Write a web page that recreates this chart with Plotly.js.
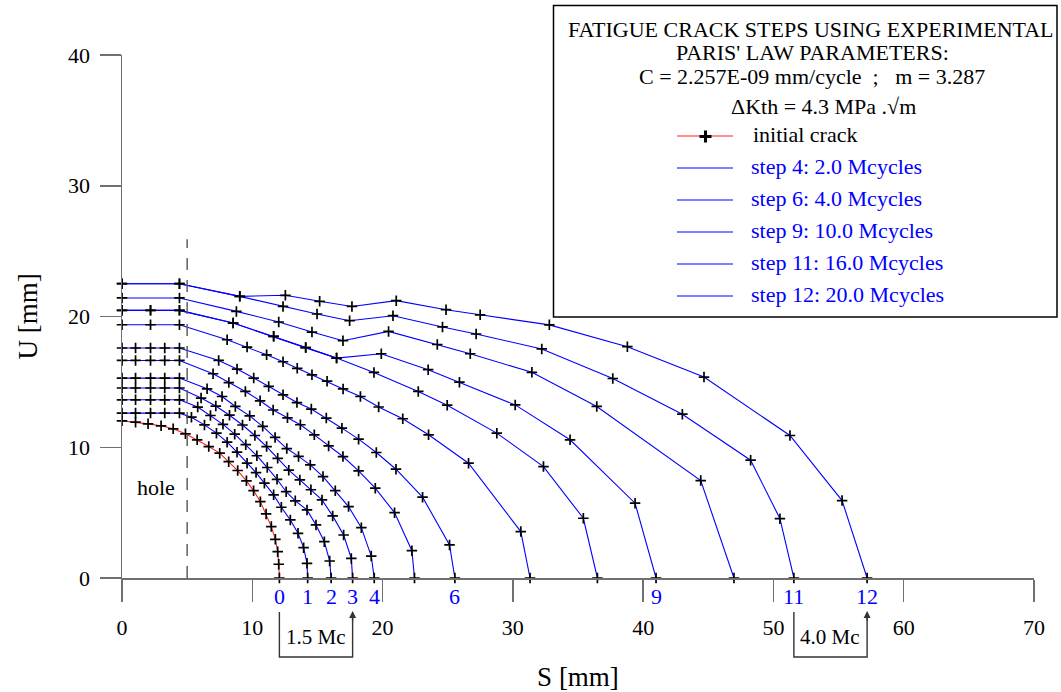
<!DOCTYPE html>
<html><head><meta charset="utf-8">
<script src="https://cdn.plot.ly/plotly-3.0.1.min.js"></script>
<style>html,body{margin:0;padding:0;background:#fff}#chart{width:1061px;height:692px}</style>
</head><body><div id="chart"></div>
<script>
// ---- crack front node positions (S, U in mm) ----
const step0S = [0,1.04,2.0,3.0,3.93,4.87,5.77,6.66,7.5,8.19,8.88,9.55,10.1,10.62,11.06,11.46,11.77,11.95,12.03,12.08];
const step0U = [12.02,11.92,11.79,11.64,11.41,11.03,10.57,10.05,9.55,8.9,8.22,7.43,6.68,5.84,4.9,3.93,2.96,2.01,1.05,0];
const step1S = [0,1.04,2.19,3.28,4.41,5.33,6.33,7.25,8.07,8.83,9.6,10.29,10.93,11.64,12.23,12.92,13.51,13.94,14.2,14.25];
const step1U = [12.61,12.61,12.61,12.61,12.61,12.3,11.71,11.08,10.39,9.62,8.78,8.06,7.25,6.36,5.41,4.44,3.42,2.32,1.12,0];
const step2S = [0,1.04,2.19,3.28,4.41,5.81,6.79,7.75,8.65,9.5,10.35,11.15,11.9,12.6,13.3,14.2,14.89,15.53,15.94,16.05];
const step2U = [13.63,13.63,13.63,13.63,13.63,13.07,12.43,11.75,11.0,10.2,9.35,8.45,7.55,6.6,5.9,5.21,4.06,2.78,1.3,0];
const step3S = [0,1.04,2.19,3.28,4.41,6.07,7.2,8.25,9.25,10.2,11.1,11.95,12.8,13.65,14.5,15.35,16.17,17.01,17.6,17.7];
const step3U = [14.53,14.53,14.53,14.53,14.53,13.76,13.15,12.45,11.7,10.9,10.05,9.15,8.25,7.5,6.75,5.97,4.75,3.29,1.5,0];
const step4S = [0,1.04,2.19,3.28,4.41,6.53,7.68,8.7,9.8,10.8,11.75,12.65,13.55,14.45,15.43,16.37,17.39,18.37,19.13,19.36];
const step4U = [15.29,15.29,15.29,15.29,15.29,14.47,13.88,13.12,12.4,11.6,10.75,9.9,9.3,8.65,7.76,6.68,5.46,3.85,1.68,0];
const step5S = [0,1.04,2.19,3.28,4.41,6.99,8.2,9.47,10.6,11.6,12.7,13.69,14.76,15.86,16.96,18.16,19.44,20.92,22.25,22.45];
const step5U = [16.64,16.64,16.64,16.64,16.64,15.62,14.95,14.27,13.55,12.85,12.25,11.72,10.95,10.1,9.29,8.19,6.87,5.0,2.09,0];
const step6S = [0,1.04,2.19,3.28,4.41,7.42,8.83,10.11,11.26,12.36,13.43,14.53,15.68,16.88,18.16,19.52,21.03,23.07,25.14,25.55];
const step6U = [17.59,17.59,17.59,17.59,17.59,16.64,15.98,15.29,14.65,14.01,13.42,12.92,12.23,11.46,10.62,9.6,8.32,6.18,2.53,0];
const step7S = [0,2.19,4.41,8.07,9.6,11.1,12.36,13.45,14.58,15.74,16.97,18.3,19.7,21.55,23.53,26.6,30.61,31.32];
const step7U = [19.37,19.37,19.37,18.22,17.66,17.07,16.54,16.04,15.54,15.05,14.46,13.88,13.08,12.18,10.95,8.78,3.55,0];
const step8S = [0,2.19,4.41,8.53,11.64,14.1,16.47,19.34,22.74,24.96,28.77,32.35,35.41,36.49];
const step8U = [20.47,20.47,20.47,19.5,18.48,17.62,16.82,15.72,14.27,13.22,11.08,8.52,4.57,0];
const step9S = [0,2.19,4.41,8.53,11.64,14.1,16.47,19.9,23.5,25.9,30.18,34.39,39.38,40.99];
const step9U = [20.47,20.47,20.47,19.5,18.48,17.62,16.82,17.15,15.93,14.98,13.24,10.57,5.72,0];
const step10S = [0,4.41,8.78,12.03,14.58,16.96,20.46,24.2,26.73,31.46,36.44,44.42,46.97];
const step10U = [21.42,21.42,20.39,19.58,18.81,18.15,18.86,17.86,17.15,15.73,13.12,7.45,0];
const step11S = [0,4.41,9.04,12.36,14.97,17.47,20.8,24.6,27.18,32.22,37.67,43.01,48.25,50.5,51.57];
const step11U = [22.51,22.51,21.54,20.77,20.19,19.68,20.06,19.2,18.66,17.52,15.26,12.53,9.01,4.54,0];
const step12S = [0,4.41,9.04,12.54,15.17,17.65,21.05,24.87,27.49,32.8,38.79,44.67,51.27,55.27,57.19];
const step12U = [22.51,22.51,21.54,21.62,21.16,20.77,21.21,20.52,20.13,19.36,17.69,15.37,10.9,5.92,0];

const labeledSteps = [0,1,2,3,4,6,9,11,12];
const stepLabels = ['0','1','2','3','4','6','9','11','12'];
const holeEdgeS = 5;
const holeLineTop = 25.9;
const brackets = [{from:0,to:3,text:'1.5 Mc'},{from:11,to:12,text:'4.0 Mc'}];
const titleLines = ['FATIGUE CRACK STEPS USING EXPERIMENTAL','PARIS\' LAW PARAMETERS:','C = 2.257E-09 mm/cycle  ;   m = 3.287','\u0394Kth = 4.3 MPa .\u221Am'];
const legendLabels = ['initial crack','step 4: 2.0 Mcycles','step 6: 4.0 Mcycles','step 9: 10.0 Mcycles','step 11: 16.0 Mcycles','step 12: 20.0 Mcycles'];

const stepS = [step0S,step1S,step2S,step3S,step4S,step5S,step6S,step7S,step8S,step9S,step10S,step11S,step12S];
const stepU = [step0U,step1U,step2U,step3U,step4U,step5U,step6U,step7U,step8U,step9U,step10U,step11U,step12U];

const FONT = 'Liberation Serif';
const BLUE = '#0000ff', RED = '#ff2020', AX = '#707070';

const traces = stepS.map((s,i)=>({
  x: s, y: stepU[i], type:'scatter', mode:'lines+markers', name: i===0?'initial crack':'step '+i,
  line:{color: i===0?RED:BLUE, width:1.1},
  marker:{symbol:'cross-thin', size:7.5, color:'#000', line:{width:1.7, color:'#000'}},
  cliponaxis:false, showlegend:false, hoverinfo:'x+y+name'
}));

// pixel helpers for paper coordinates (plot area: x 122..1034, y 55..578)
const PX = x => (x-122)/912, PY = y => (578-y)/523;

const shapes = [], annotations = [];
// hole boundary
shapes.push({type:'line', xref:'x', yref:'y', x0:holeEdgeS, x1:holeEdgeS, y0:0, y1:holeLineTop,
  line:{color:'#555', width:1.4, dash:'12px,10px'}});
annotations.push({xref:'x', yref:'y', x:2.6, y:6.9, text:'hole', showarrow:false,
  font:{family:FONT, size:22, color:'#000'}});
// step labels under axis
labeledSteps.forEach((k,j)=>{
  const s = stepS[k];
  annotations.push({xref:'x', yref:'paper', x:s[s.length-1], y:PY(596), yanchor:'middle', text:stepLabels[j], showarrow:false,
    font:{family:FONT, size:22, color:BLUE}});
});
// brackets
brackets.forEach(b=>{
  const a = stepS[b.from][stepS[b.from].length-1], c = stepS[b.to][stepS[b.to].length-1];
  shapes.push({type:'path', xref:'x', yref:'paper',
    path:`M ${a} ${PY(612)} L ${a} ${PY(657)} L ${c} ${PY(657)} L ${c} ${PY(618)}`, line:{color:'#333', width:1.4}});
  annotations.push({xref:'x', yref:'paper', axref:'x', ayref:'paper', x:c, y:PY(611), ax:c, ay:PY(622), text:'',
    showarrow:true, arrowhead:2, arrowsize:1, arrowwidth:1.4, arrowcolor:'#333'});
  annotations.push({xref:'x', yref:'paper', x:(a+c)/2, y:PY(637), yanchor:'middle', text:b.text, showarrow:false,
    font:{family:FONT, size:21, color:'#000'}});
});
// legend box
shapes.push({type:'rect', xref:'paper', yref:'paper', x0:PX(553.5), x1:PX(1057), y0:PY(317), y1:PY(5.5),
  line:{color:'#000', width:1.5}, fillcolor:'#fff', layer:'above'});
const titleY = [29, 52, 77, 106], titleX = [811, 812, 812, 823];
titleLines.forEach((t,i)=>annotations.push({xref:'paper', yref:'paper', x:PX(titleX[i]), y:PY(titleY[i]),
  text:t, showarrow:false, xanchor:'center', yanchor:'middle', font:{family:FONT, size:22, color:'#000'}}));
const legY = [136, 168, 200, 232, 264, 296];
legendLabels.forEach((t,i)=>{
  shapes.push({type:'line', xref:'paper', yref:'paper', x0:PX(677), x1:PX(733), y0:PY(legY[i]), y1:PY(legY[i]),
    line:{color: i===0?RED:BLUE, width:1.2}, layer:'above'});
  annotations.push({xref:'paper', yref:'paper', x:PX(i===0?751:749), y:PY(legY[i]-2), text:t, showarrow:false,
    xanchor:'left', yanchor:'middle', font:{family:FONT, size:22, color: i===0?'#000':BLUE}});
});
// cross marker sample in legend
shapes.push({type:'line', xref:'paper', yref:'paper', x0:PX(699.5), x1:PX(711.5), y0:PY(136.5), y1:PY(136.5), line:{color:'#000', width:3}, layer:'above'});
shapes.push({type:'line', xref:'paper', yref:'paper', x0:PX(705.5), x1:PX(705.5), y0:PY(130.5), y1:PY(142.5), line:{color:'#000', width:3}, layer:'above'});

const axisCommon = {showgrid:false, zeroline:false, showline:true, linecolor:AX, linewidth:1.5,
  ticks:'outside', tickcolor:AX, tickwidth:1.5, tickfont:{family:FONT, size:22, color:'#000'}};
const layout = {
  width:1061, height:692, margin:{l:122, r:27, t:55, b:114},
  paper_bgcolor:'#fff', plot_bgcolor:'#fff', showlegend:false,
  xaxis:Object.assign({}, axisCommon, {range:[0,70], dtick:10, tick0:0, ticklen:22, ticklabelstandoff:7,
    title:{text:'S [mm]', font:{family:FONT, size:27, color:'#000'}, standoff:29}}),
  yaxis:Object.assign({}, axisCommon, {range:[0,40], dtick:10, tick0:0, ticklen:21, ticklabelstandoff:5,
    title:{text:'U [mm]', font:{family:FONT, size:27, color:'#000'}, standoff:22}}),
  shapes, annotations
};
Plotly.newPlot('chart', traces, layout, {displayModeBar:false, staticPlot:true});
</script></body></html>
